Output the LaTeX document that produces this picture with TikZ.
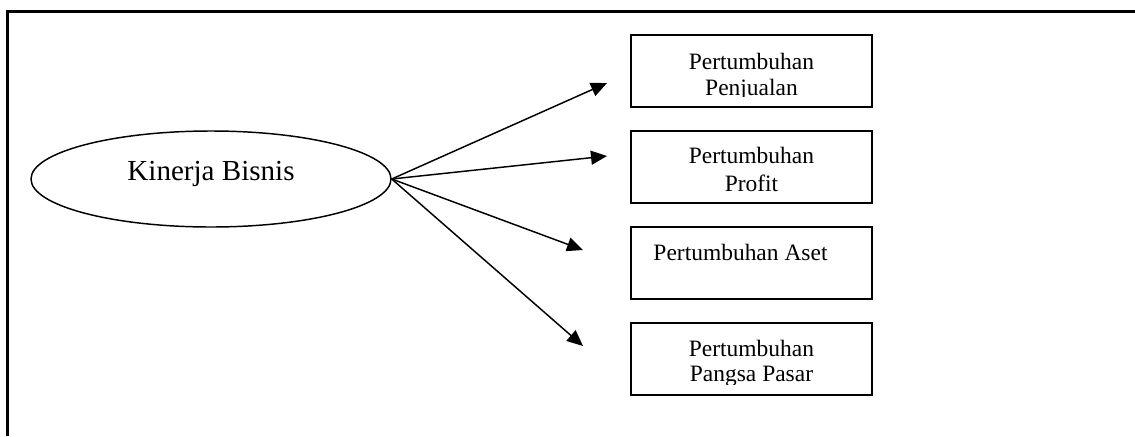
\documentclass[tikz,border=0pt]{standalone}
\usepackage{fontspec}
\setmainfont{Liberation Serif}
\usetikzlibrary{shapes.geometric,arrows.meta}
\begin{document}
\begin{tikzpicture}[x=0.75pt,y=-0.75pt,
  frame/.style={line width=1.6pt},
  oval/.style={draw,ellipse,line width=1.1pt,minimum width=270pt,minimum height=72pt,inner sep=0pt},
  indicator/.style={draw,line width=1.5pt,minimum width=180.75pt,minimum height=54pt,inner sep=0pt},
  lbl/.style={font=\fontsize{17.6pt}{19.2pt}\selectfont,anchor=base,inner sep=0pt},
  link/.style={line width=1.1pt,-{Triangle[length=12pt,width=10.5pt]}}]
\useasboundingbox (0,0) rectangle (1135,436);
% open frame: left and top edges only
\draw[frame] (7.5,436) -- (7.5,11.5) -- (1135,11.5);

% construct
\node[oval] (kb) at (211,179) {};
\node[font=\fontsize{21.8pt}{26pt}\selectfont,anchor=base,inner sep=0pt] (kbt) at (211,180) {Kinerja Bisnis};

% indicator boxes
\node[indicator] (b1) at (751.5,71) {};
\node[indicator] (b2) at (751.5,167) {};
\node[indicator] (b3) at (751.5,263) {};
\node[indicator] (b4) at (751.5,359) {};

% box texts, clipped to the text area of each box
\begin{scope}
  \clip (632,36) rectangle (871,96);
  \node[lbl] (t1a) at (751.5,69) {Pertumbuhan};
  \node[lbl] (t1b) at (751.5,95) {Penjualan};
\end{scope}
\begin{scope}
  \clip (632,132) rectangle (871,202);
  \node[lbl] (t2a) at (751.5,163.5) {Pertumbuhan};
  \node[lbl] (t2b) at (751.5,191.5) {Profit};
\end{scope}
\node[lbl] (t3) at (740.5,260) {Pertumbuhan Aset};
\begin{scope}
  \clip (632,324) rectangle (871,384);
  \node[lbl] (t4a) at (751.5,356) {Pertumbuhan};
  \node[lbl] (t4b) at (751.5,381) {Pangsa Pasar};
\end{scope}

% arrow ends
\coordinate (e1) at (607,83);
\coordinate (e2) at (607,156);
\coordinate (e3) at (583,250);
\coordinate (e4) at (583,346);

\draw[link] (kb.east) -- (e1);
\draw[link] (kb.east) -- (e2);
\draw[link] (kb.east) -- (e3);
\draw[link] (kb.east) -- (e4);
\end{tikzpicture}
\end{document}
